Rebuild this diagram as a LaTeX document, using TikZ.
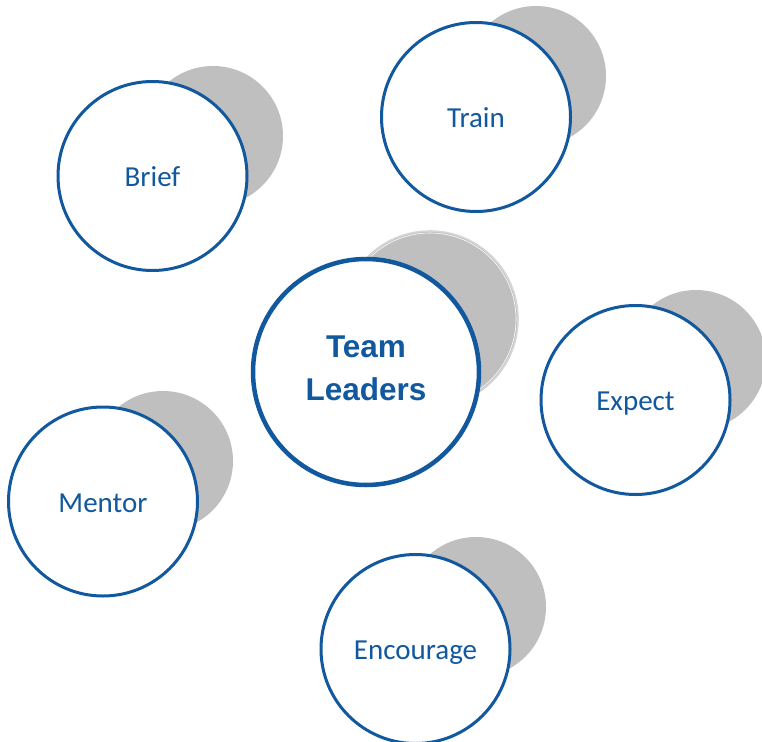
\documentclass[tikz,border=0pt]{standalone}
\usepackage{fontspec}
\setmainfont{Carlito}
\newfontfamily\headfont{Liberation Sans}
\definecolor{ringblue}{RGB}{17,88,158}
\definecolor{backgray}{RGB}{191,191,191}
\definecolor{edgegray}{RGB}{214,214,214}
\begin{document}
\begin{tikzpicture}[x=1pt,y=-1pt,
  backdisc/.style={circle,fill=backgray,inner sep=0pt,minimum size=140pt},
  topic/.style={circle,draw=ringblue,line width=3pt,fill=white,inner sep=0pt,
    minimum size=189pt,text=ringblue,text height=21.7pt,text depth=0pt,
    font=\fontsize{29}{34}\selectfont},
  core/.style={circle,draw=ringblue,line width=4.5pt,fill=white,inner sep=0pt,
    minimum size=226pt},
  corelabel/.style={text=ringblue,align=center,inner sep=0pt,
    font=\headfont\bfseries\fontsize{31.5}{43}\selectfont}]
\useasboundingbox (0,0) rectangle (762,741);
\clip (0,0) rectangle (762,741);

% grey discs behind each circle
\node[backdisc] (briefback) at (213,136) {};
\node[backdisc] (trainback) at (536,76) {};
\node[backdisc] (expectback) at (696,360) {};
\node[backdisc] (mentorback) at (163,461) {};
\node[backdisc] (encourageback) at (476,607) {};
\node[backdisc,minimum size=176pt,draw=edgegray,line width=1.6pt] (coreback) at (430,319) {};
\draw[white,line width=0.6pt] (coreback.center) circle[radius=86];

% topic circles
\node[topic] (brief) at (152.5,176) {Brief};
\node[topic] (train) at (476,117) {Train};
\node[topic] (expect) at (635.5,400) {Expect};
\node[topic] (mentor) at (103,501.5) {Mentor};
\node[topic] (encourage) at (415.5,649) {Encourage};

% central circle
\node[core,label={[corelabel,name=leaderstext,yshift=4pt]center:{Team\\Leaders}}] (leaders) at (366,372) {};
\end{tikzpicture}
\end{document}
